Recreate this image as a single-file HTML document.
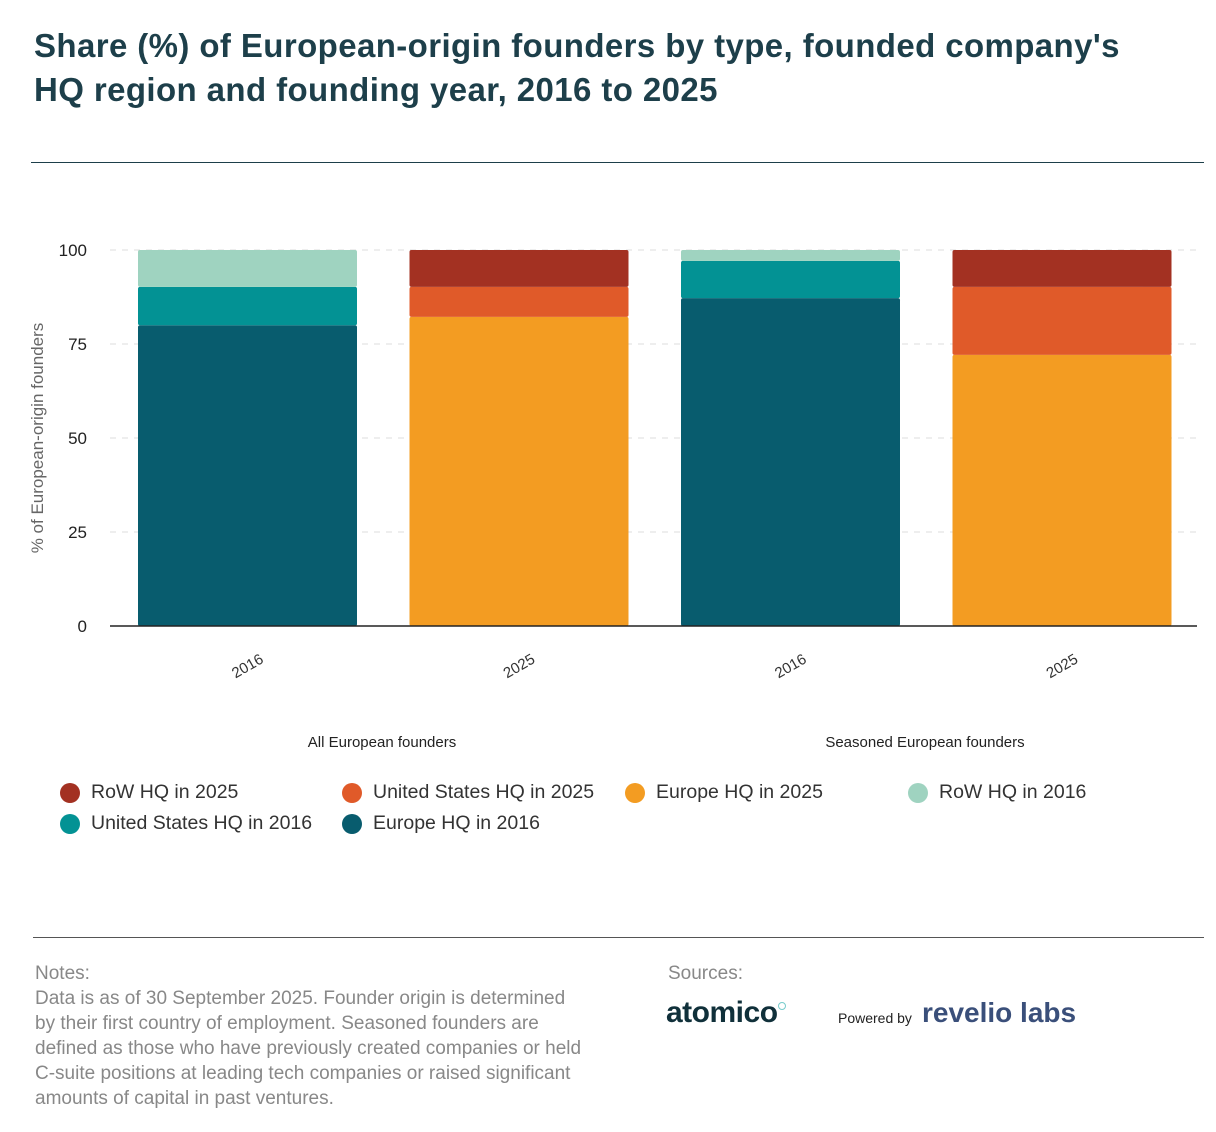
<!DOCTYPE html>
<html><head><meta charset="utf-8"><style>
body{margin:0;width:1216px;height:1132px;background:#fff;font-family:"Liberation Sans",sans-serif;position:relative;overflow:hidden}
.abs{position:absolute}
h1{position:absolute;left:34px;top:24px;margin:0;font-size:33px;line-height:44px;color:#1d3f4a;font-weight:bold;letter-spacing:0.4px}
.leg{position:absolute;font-size:19.5px;color:#333}
.leg span.d{position:absolute;left:-31px;top:2px;width:20px;height:20px;border-radius:50%}
.note{font-size:19px;color:#888;line-height:25px}
</style></head><body>
<h1>Share (%) of European-origin founders by type, founded company's<br>HQ region and founding year, 2016 to 2025</h1>
<div class="abs" style="left:31px;top:162px;width:1173px;height:1px;background:#1d3f4a"></div>
<svg id="chart" class="abs" style="left:0;top:170px" width="1216" height="600"></svg>
<div class="leg" style="left:91px;top:781px"><span class="d" style="background:#a33122"></span>RoW HQ in 2025</div>
<div class="leg" style="left:373px;top:781px"><span class="d" style="background:#e05a29"></span>United States HQ in 2025</div>
<div class="leg" style="left:656px;top:781px"><span class="d" style="background:#f39c22"></span>Europe HQ in 2025</div>
<div class="leg" style="left:939px;top:781px"><span class="d" style="background:#9fd3c0"></span>RoW HQ in 2016</div>
<div class="leg" style="left:91px;top:812px"><span class="d" style="background:#039294"></span>United States HQ in 2016</div>
<div class="leg" style="left:373px;top:812px"><span class="d" style="background:#085c6e"></span>Europe HQ in 2016</div>
<div class="abs" style="left:33px;top:937px;width:1171px;height:1px;background:#555"></div>
<div class="abs note" style="left:35px;top:961px;width:555px">Notes:<br>Data is as of 30 September 2025. Founder origin is determined by their first country of employment. Seasoned founders are defined as those who have previously created companies or held C-suite positions at leading tech companies or raised significant amounts of capital in past ventures.</div>
<div class="abs note" style="left:668px;top:961px">Sources:</div>
<div class="abs" style="left:666px;top:996px;font-size:30px;font-weight:bold;color:#10303a;letter-spacing:-0.5px">atomico<span style="display:inline-block;width:6px;height:6px;border:1px solid #7cc;border-radius:50%;vertical-align:top;margin-top:6px"></span></div>
<div class="abs" style="left:838px;top:1010px;font-size:14px;color:#222">Powered by</div>
<div class="abs" style="left:922px;top:997px;font-size:28px;font-weight:bold;color:#3a4f7a">revelio labs</div>
<script>
const categories=["2016","2025","2016","2025"];
const groups=["All European founders","Seasoned European founders"];
const europe=[80,82.2,87.2,72.1];
const us=[10.2,8,9.9,18.1];
const row=[9.8,9.8,2.9,9.8];
const yTicks=[0,25,50,75,100];
const ns="http://www.w3.org/2000/svg",svg=document.getElementById('chart');
const y0=456,pxPer=3.76,y=v=>y0-v*pxPer;
const left=110,right=1197,bw=219,step=271.5,x=i=>138+i*step;
const colEu=["#085c6e","#f39c22","#085c6e","#f39c22"],colUs=["#039294","#e05a29","#039294","#e05a29"],colRow=["#9fd3c0","#a33122","#9fd3c0","#a33122"];
function mk(t,a,txt){const e=document.createElementNS(ns,t);for(const k in a)e.setAttribute(k,a[k]);if(txt!==undefined)e.textContent=txt;svg.appendChild(e);return e;}
yTicks.forEach(t=>{
 if(t>0){const g=mk('line',{x1:left,x2:right,y1:y(t),y2:y(t),stroke:'#ddd','stroke-dasharray':'6,6'});
 
 }
 const l=mk('text',{x:87,y:y(t)+6,'text-anchor':'end','font-size':17,fill:'#222'},t);
 
 
});
categories.forEach((c,i)=>{
 const segs=[[europe[i],colEu[i],'europe'],[us[i],colUs[i],'us'],[row[i],colRow[i],'row']];
 let acc=0;
 segs.forEach(s=>{
  const top=acc+s[0];
  const r=mk('rect',{x:x(i),y:y(top),width:bw,height:s[0]*pxPer,fill:s[1],rx:2});
  
  
  acc=top;
 });
 const cx=x(i)+bw/2;
 const t=mk('text',{x:cx,y:y0+45,'text-anchor':'middle','font-size':15,fill:'#333',transform:`rotate(-30 ${cx} ${y0+40})`},c);
 
 
});
groups.forEach((g,j)=>{
 const t=mk('text',{x:j==0?382:925,y:y0+121,'text-anchor':'middle','font-size':15,fill:'#222'},g);
 
 
});
const ax=mk('line',{x1:left,x2:right,y1:y0,y2:y0,stroke:'#222','stroke-width':1.5});


const yt=mk('text',{x:0,y:0,'text-anchor':'middle','font-size':17,fill:'#666',transform:`translate(43 ${y(50)}) rotate(-90)`},'% of European-origin founders');


</script>
</body></html>
